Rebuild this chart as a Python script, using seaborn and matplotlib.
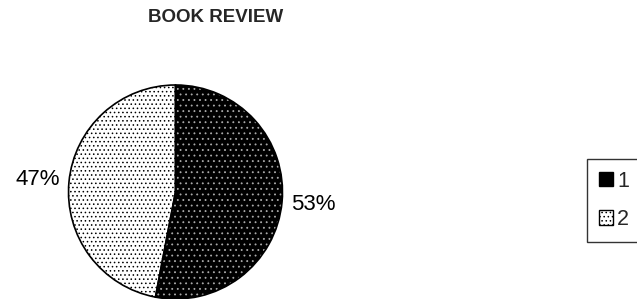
import matplotlib
matplotlib.use("Agg")
import matplotlib.pyplot as plt
import seaborn as sns
from matplotlib.patches import Patch

categories = ["1", "2"]
values = [53, 47]
title = "BOOK REVIEW"

sns.set_theme(style="white")
plt.rcParams['font.family'] = ['Liberation Sans', 'DejaVu Sans']
plt.rcParams['hatch.linewidth'] = 0.6

W, H = 637, 299
fig = plt.figure(figsize=(W / 100, H / 100), dpi=100)
cx, cy, r = 175.5, 192, 107
ax = fig.add_axes([(cx - r) / W, (H - cy - r) / H, 2 * r / W, 2 * r / H])

face = ["black", "white"]
hatch_col = ["#aaaaaa", "black"]
hatches = ["...", "...."]

# filled, hatched wedges
wedges, texts, autotexts = ax.pie(values, startangle=90, counterclock=False,
                                  colors=face, autopct='%1.0f%%', pctdistance=1.29,
                                  textprops=dict(fontsize=16, color="black"))
for w, hc, hp in zip(wedges, hatch_col, hatches):
    w.set_edgecolor(hc)
    w.set_hatch(hp)
    w.set_linewidth(0)
# outlines
w2, _ = ax.pie(values, startangle=90, counterclock=False,
               wedgeprops=dict(fill=False, edgecolor="black", linewidth=1.2))
ax.set_xlim(-1, 1)
ax.set_ylim(-1, 1)
ax.set_aspect('equal')
ax.axis('off')

fig.text(215.5 / W, 1 - 17 / H, title, ha='center', va='center',
         fontsize=13.5, fontweight='bold')

handles = [Patch(facecolor=face[i], edgecolor="black", hatch=hatches[i], linewidth=1)
           for i in range(len(categories))]
leg = fig.legend(handles, categories, loc='upper left',
                 bbox_to_anchor=(587 / W, 1 - 159 / H), borderaxespad=0,
                 fontsize=15.5, frameon=True, fancybox=False, edgecolor="black",
                 handlelength=0.65, handleheight=0.65, handletextpad=0.2,
                 labelspacing=0.8, borderpad=0.55)
leg.get_frame().set_linewidth(1)

fig.savefig("out.png", dpi=100)
